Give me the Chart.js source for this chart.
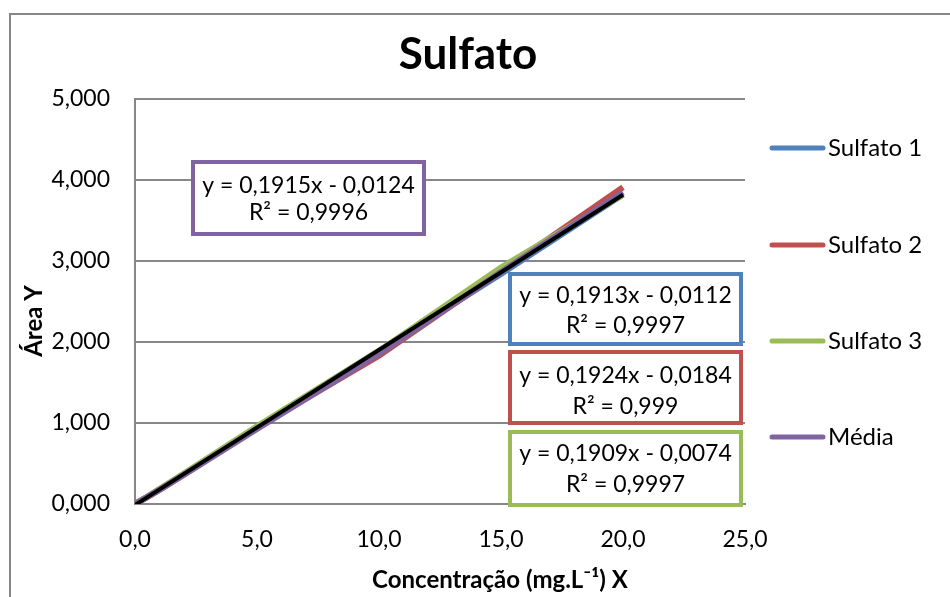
<!DOCTYPE html>
<html>
<head>
<meta charset="utf-8">
<title>Sulfato</title>
<script src="https://cdn.jsdelivr.net/npm/chart.js@4.4.1/dist/chart.umd.min.js"></script>
<style>
  html, body { margin: 0; padding: 0; background: #fff; }
  #wrap { width: 950px; height: 597px; }
</style>
</head>
<body>
<div id="wrap"><canvas id="sulfato_chart"></canvas></div>
<script>
// concentrations (mg/L)
var concentracao = [0, 0.5, 1, 2, 5, 10, 15, 20];

// peak areas
var sulfato1 = [0, 0.090, 0.180, 0.370, 0.950, 1.890, 2.840, 3.820];
var sulfato2 = [0, 0.085, 0.175, 0.365, 0.945, 1.830, 2.870, 3.910];
var sulfato3 = [0, 0.090, 0.185, 0.375, 0.960, 1.890, 2.920, 3.820];
var media    = [0, 0.085, 0.175, 0.360, 0.925, 1.855, 2.865, 3.850];

var seriesNames  = ["Sulfato 1", "Sulfato 2", "Sulfato 3", "Média"];
var seriesColors = ["#4F81BD", "#C0504D", "#9BBB59", "#8064A2"];

// trendline of Média, as printed on the chart
var trendSlope = 0.1915;
var trendIntercept = -0.0124;
var trendRange = [0, 20];

// equation labels (text as shown)
var eqLines = [
  ["y = 0,1915x - 0,0124", "R² = 0,9996"],
  ["y = 0,1913x - 0,0112", "R² = 0,9997"],
  ["y = 0,1924x - 0,0184", "R² = 0,999"],
  ["y = 0,1909x - 0,0074", "R² = 0,9997"]
];
var eqColors = ["#8064A2", "#4F81BD", "#C0504D", "#9BBB59"];

var FONT = "Lato, 'DejaVu Sans', sans-serif";

function pts(ys) {
  return concentracao.map(function(x, i) { return { x: x, y: ys[i] }; });
}
function comma(v, d) { return v.toFixed(d).replace('.', ','); }

var trendPts = trendRange.map(function(x) { return { x: x, y: trendSlope * x + trendIntercept }; });

var allSeries = [sulfato1, sulfato2, sulfato3, media];
var datasets = allSeries.map(function(s, i) {
  return {
    label: seriesNames[i],
    data: pts(s),
    borderColor: seriesColors[i],
    backgroundColor: seriesColors[i],
    borderWidth: 6,
    pointRadius: 0,
    tension: 0,
    order: 4 - i
  };
});
datasets.push({
  label: "trend",
  data: trendPts,
  borderColor: "#000000",
  borderWidth: 4,
  pointRadius: 0,
  order: 0
});

// boxes, legend, titles, frame
var decor = {
  id: 'decor',
  beforeDraw: function(chart) {
    var c = chart.ctx;
    c.save();
    c.fillStyle = '#fff';
    c.fillRect(0, 0, chart.width, chart.height);
    c.strokeStyle = '#878787';
    c.lineWidth = 2;
    c.strokeRect(10, 14, 1000, 1000);
    c.restore();
  },
  afterDraw: function(chart) {
    var c = chart.ctx;
    c.save();
    c.fillStyle = '#000';
    c.textAlign = 'center';
    c.textBaseline = 'middle';
    c.font = "bold 44px " + FONT;
    c.fillText("Sulfato", 468, 55);

    c.font = "bold 24px " + FONT;
    c.fillText("Concentração (mg.L⁻¹) X", 500, 580);
    c.save();
    c.translate(34, 321);
    c.rotate(-Math.PI / 2);
    c.fillText("Área Y", 0, 0);
    c.restore();

    // equation boxes
    var boxes = [
      [191, 160, 426, 236, 186, 213],
      [508, 272, 743, 346, 296, 326],
      [508, 350, 743, 425, 376, 407],
      [508, 430, 743, 507, 454, 485]
    ];
    c.font = "23px " + FONT;
    boxes.forEach(function(b, i) {
      c.fillStyle = '#fff';
      c.fillRect(b[0], b[1], b[2] - b[0], b[3] - b[1]);
      c.strokeStyle = eqColors[i];
      c.lineWidth = 4;
      c.strokeRect(b[0] + 2, b[1] + 2, b[2] - b[0] - 4, b[3] - b[1] - 4);
      c.fillStyle = '#000';
      c.fillText(eqLines[i][0], (b[0] + b[2]) / 2, b[4]);
      c.fillText(eqLines[i][1], (b[0] + b[2]) / 2, b[5]);
    });

    // legend
    var legY = [148, 245, 341, 437];
    c.textAlign = 'left';
    c.lineCap = 'round';
    c.font = "24px " + FONT;
    seriesNames.forEach(function(n, i) {
      c.strokeStyle = seriesColors[i];
      c.lineWidth = 5;
      c.beginPath();
      c.moveTo(772, legY[i]);
      c.lineTo(823, legY[i]);
      c.stroke();
      c.fillStyle = '#000';
      c.fillText(n, 828, legY[i]);
    });
    c.restore();
  }
};

new Chart(document.getElementById('sulfato_chart'), {
  type: 'line',
  data: { datasets: datasets },
  options: {
    responsive: true,
    maintainAspectRatio: false,
    animation: false,
    layout: { padding: { top: 99, right: 205, left: 0, bottom: 0 } },
    plugins: {
      legend: { display: false },
      title: { display: false },
      tooltip: { enabled: false }
    },
    scales: {
      x: {
        type: 'linear',
        min: 0, max: 25,
        afterFit: function(s) { s.height = 93; },
        ticks: {
          stepSize: 5,
          padding: 22,
          color: '#000',
          font: { family: FONT, size: 23 },
          callback: function(v) { return comma(v, 1); }
        },
        grid: { display: false, drawTicks: false },
        border: { color: '#878787', width: 2 }
      },
      y: {
        min: 0, max: 5,
        afterFit: function(s) { s.width = 135; },
        ticks: {
          stepSize: 1,
          padding: 25,
          color: '#000',
          font: { family: FONT, size: 23 },
          callback: function(v) { return comma(v, 3); }
        },
        grid: { color: '#878787', lineWidth: 2, drawTicks: false },
        border: { color: '#878787', width: 2 }
      }
    }
  },
  plugins: [decor]
});
</script>
</body>
</html>
